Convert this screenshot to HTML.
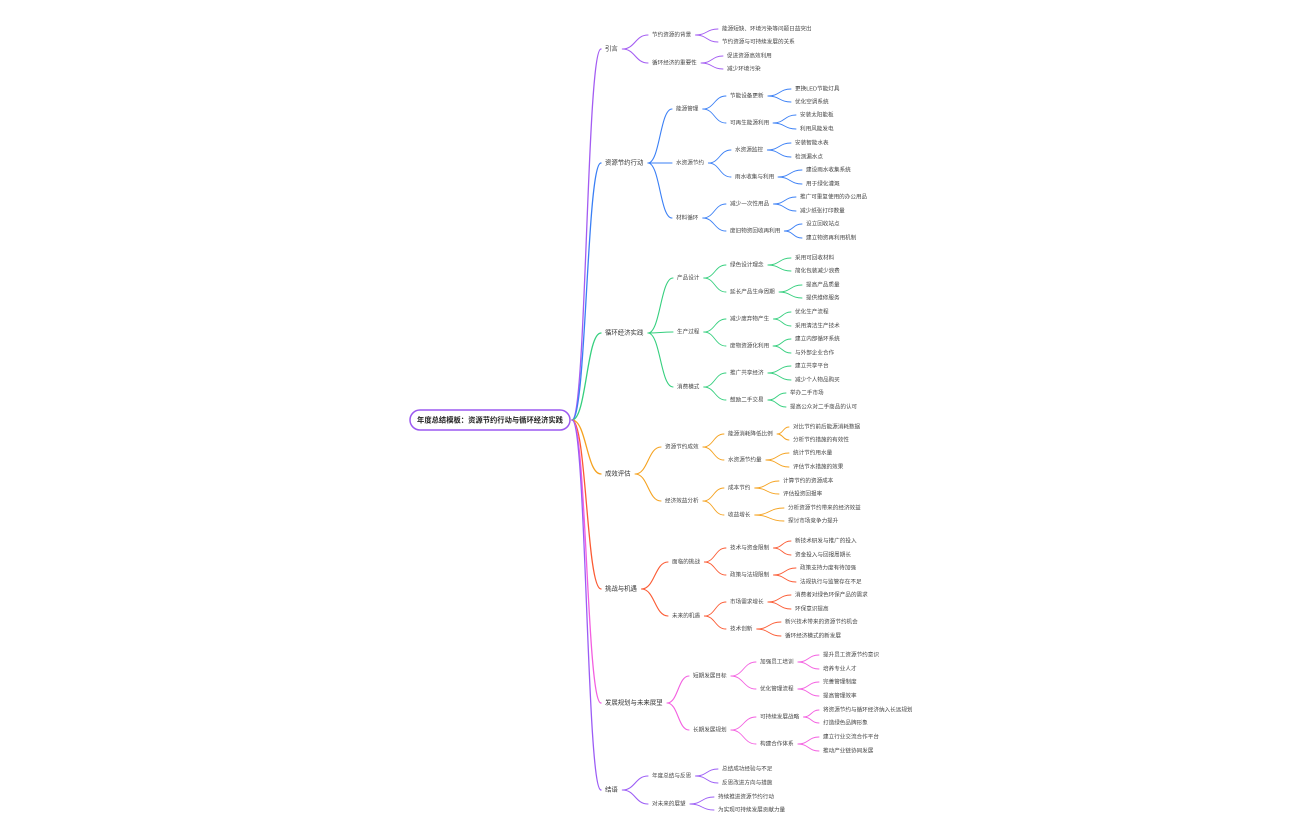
<!DOCTYPE html>
<html><head><meta charset="utf-8"><style>
html,body{margin:0;padding:0;background:#fff;}
svg{display:block;}
text{font-family:"Liberation Sans","Noto Sans CJK SC",sans-serif;font-size:5.6px;fill:#444;dominant-baseline:middle;}
text.l1{font-size:6.4px;fill:#333;}
text.root{font-size:7.3px;font-weight:bold;fill:#222;}
</style></head><body>
<svg id="s" width="1296" height="840" viewBox="0 0 1296 840">
<g id="lines" fill="none" stroke-linecap="round"></g>
<rect x="410" y="410" width="160" height="20" rx="10" fill="#fff" stroke="#9b59f0" stroke-width="1.5"/>
<text class="root" x="490" y="420.5" text-anchor="middle">年度总结模板：资源节约行动与循环经济实践</text>
<g id="t">
<text class="l1" id="a" x="605" y="49">引言</text>
<text id="a1" x="652" y="35">节约资源的背景</text>
<text id="a11" x="722" y="29">能源短缺、环境污染等问题日益突出</text>
<text id="a12" x="722" y="42">节约资源与可持续发展的关系</text>
<text id="a2" x="652" y="63">循环经济的重要性</text>
<text id="a21" x="727" y="56">促进资源高效利用</text>
<text id="a22" x="727" y="69">减少环境污染</text>

<text class="l1" id="b" x="605" y="163">资源节约行动</text>
<text id="b1" x="676" y="109">能源管理</text>
<text id="b11" x="730" y="96">节能设备更新</text>
<text id="b111" x="795" y="89">更换LED节能灯具</text>
<text id="b112" x="795" y="102">优化空调系统</text>
<text id="b12" x="730" y="123">可再生能源利用</text>
<text id="b121" x="800" y="115">安装太阳能板</text>
<text id="b122" x="800" y="129">利用风能发电</text>
<text id="b2" x="676" y="163">水资源节约</text>
<text id="b21" x="735" y="150">水资源监控</text>
<text id="b211" x="795" y="143">安装智能水表</text>
<text id="b212" x="795" y="157">检测漏水点</text>
<text id="b22" x="735" y="177">雨水收集与利用</text>
<text id="b221" x="806" y="170">建设雨水收集系统</text>
<text id="b222" x="806" y="184">用于绿化灌溉</text>
<text id="b3" x="676" y="218">材料循环</text>
<text id="b31" x="730" y="204">减少一次性用品</text>
<text id="b311" x="800" y="197">推广可重复使用的办公用品</text>
<text id="b312" x="800" y="211">减少纸张打印数量</text>
<text id="b32" x="730" y="231">废旧物资回收再利用</text>
<text id="b321" x="806" y="224">设立回收站点</text>
<text id="b322" x="806" y="238">建立物资再利用机制</text>

<text class="l1" id="c" x="605" y="333">循环经济实践</text>
<text id="c1" x="677" y="278">产品设计</text>
<text id="c11" x="730" y="265">绿色设计理念</text>
<text id="c111" x="795" y="258">采用可回收材料</text>
<text id="c112" x="795" y="271">简化包装减少浪费</text>
<text id="c12" x="730" y="292">延长产品生命周期</text>
<text id="c121" x="806" y="285">提高产品质量</text>
<text id="c122" x="806" y="298">提供维修服务</text>
<text id="c2" x="677" y="332">生产过程</text>
<text id="c21" x="730" y="319">减少废弃物产生</text>
<text id="c211" x="795" y="312">优化生产流程</text>
<text id="c212" x="795" y="326">采用清洁生产技术</text>
<text id="c22" x="730" y="346">废物资源化利用</text>
<text id="c221" x="795" y="339">建立内部循环系统</text>
<text id="c222" x="795" y="353">与外部企业合作</text>
<text id="c3" x="677" y="387">消费模式</text>
<text id="c31" x="730" y="373">推广共享经济</text>
<text id="c311" x="795" y="366">建立共享平台</text>
<text id="c312" x="795" y="380">减少个人物品购买</text>
<text id="c32" x="730" y="400">鼓励二手交易</text>
<text id="c321" x="790" y="393">举办二手市场</text>
<text id="c322" x="790" y="407">提高公众对二手商品的认可</text>

<text class="l1" id="d" x="605" y="474">成效评估</text>
<text id="d1" x="665" y="447">资源节约成效</text>
<text id="d11" x="728" y="434">能源消耗降低比例</text>
<text id="d111" x="793" y="427">对比节约前后能源消耗数据</text>
<text id="d112" x="793" y="440">分析节约措施的有效性</text>
<text id="d12" x="728" y="460">水资源节约量</text>
<text id="d121" x="793" y="453">统计节约用水量</text>
<text id="d122" x="793" y="467">评估节水措施的效果</text>
<text id="d2" x="665" y="501">经济效益分析</text>
<text id="d21" x="728" y="488">成本节约</text>
<text id="d211" x="783" y="481">计算节约的资源成本</text>
<text id="d212" x="783" y="494">评估投资回报率</text>
<text id="d22" x="728" y="515">收益增长</text>
<text id="d221" x="788" y="508">分析资源节约带来的经济效益</text>
<text id="d222" x="788" y="521">探讨市场竞争力提升</text>

<text class="l1" id="e" x="605" y="589">挑战与机遇</text>
<text id="e1" x="672" y="562">面临的挑战</text>
<text id="e11" x="730" y="548">技术与资金限制</text>
<text id="e111" x="795" y="541">新技术研发与推广的投入</text>
<text id="e112" x="795" y="555">资金投入与回报周期长</text>
<text id="e12" x="730" y="575">政策与法规限制</text>
<text id="e121" x="800" y="568">政策支持力度有待加强</text>
<text id="e122" x="800" y="582">法规执行与监管存在不足</text>
<text id="e2" x="672" y="616">未来的机遇</text>
<text id="e21" x="730" y="602">市场需求增长</text>
<text id="e211" x="795" y="595">消费者对绿色环保产品的需求</text>
<text id="e212" x="795" y="609">环保意识提高</text>
<text id="e22" x="730" y="629">技术创新</text>
<text id="e221" x="785" y="622">新兴技术带来的资源节约机会</text>
<text id="e222" x="785" y="636">循环经济模式的新发展</text>

<text class="l1" id="f" x="605" y="703">发展规划与未来展望</text>
<text id="f1" x="693" y="676">短期发展目标</text>
<text id="f11" x="760" y="662">加强员工培训</text>
<text id="f111" x="823" y="655">提升员工资源节约意识</text>
<text id="f112" x="823" y="669">培养专业人才</text>
<text id="f12" x="760" y="689">优化管理流程</text>
<text id="f121" x="823" y="682">完善管理制度</text>
<text id="f122" x="823" y="696">提高管理效率</text>
<text id="f2" x="693" y="730">长期发展规划</text>
<text id="f21" x="760" y="717">可持续发展战略</text>
<text id="f211" x="823" y="710">将资源节约与循环经济纳入长远规划</text>
<text id="f212" x="823" y="723">打造绿色品牌形象</text>
<text id="f22" x="760" y="744">构建合作体系</text>
<text id="f221" x="823" y="737">建立行业交流合作平台</text>
<text id="f222" x="823" y="751">推动产业链协同发展</text>

<text class="l1" id="g" x="605" y="790">结语</text>
<text id="g1" x="652" y="776">年度总结与反思</text>
<text id="g11" x="722" y="769">总结成功经验与不足</text>
<text id="g12" x="722" y="783">反思改进方向与措施</text>
<text id="g2" x="652" y="804">对未来的展望</text>
<text id="g21" x="718" y="797">持续推进资源节约行动</text>
<text id="g22" x="718" y="810">为实现可持续发展贡献力量</text>
</g>
</svg>
<script>
(function(){
var cols={a:'#a35cf2',b:'#3a7ff5',c:'#35cf7e',d:'#f5a21f',e:'#fb5a33',f:'#f35ee0',g:'#9b5cf5'};
var g=document.getElementById('lines');var NS='http://www.w3.org/2000/svg';
function seg(x1,y1,x2,y2,c,w){var p=document.createElementNS(NS,'path');var m=(x1+x2)/2;
p.setAttribute('d','M'+x1+' '+y1+' C'+m+' '+y1+' '+m+' '+y2+' '+x2+' '+y2);p.setAttribute('stroke',c);p.setAttribute('stroke-width',w);g.appendChild(p);}
var ts=document.querySelectorAll('#t text');var map={};
ts.forEach(function(t){map[t.id]=t;});
ts.forEach(function(t){var id=t.id;var c=cols[id[0]];var y=+t.getAttribute('y');var x=+t.getAttribute('x');
 if(id.length==1){seg(572,420,x-4,y,c,1.3);return;}
 var p=map[id.slice(0,-1)];var bb=p.getBBox();var py=+p.getAttribute('y');
 seg(bb.x+bb.width+4,py,x-4,y,c,id.length==2?1.1:0.9);});
})();
</script>
</body></html>
